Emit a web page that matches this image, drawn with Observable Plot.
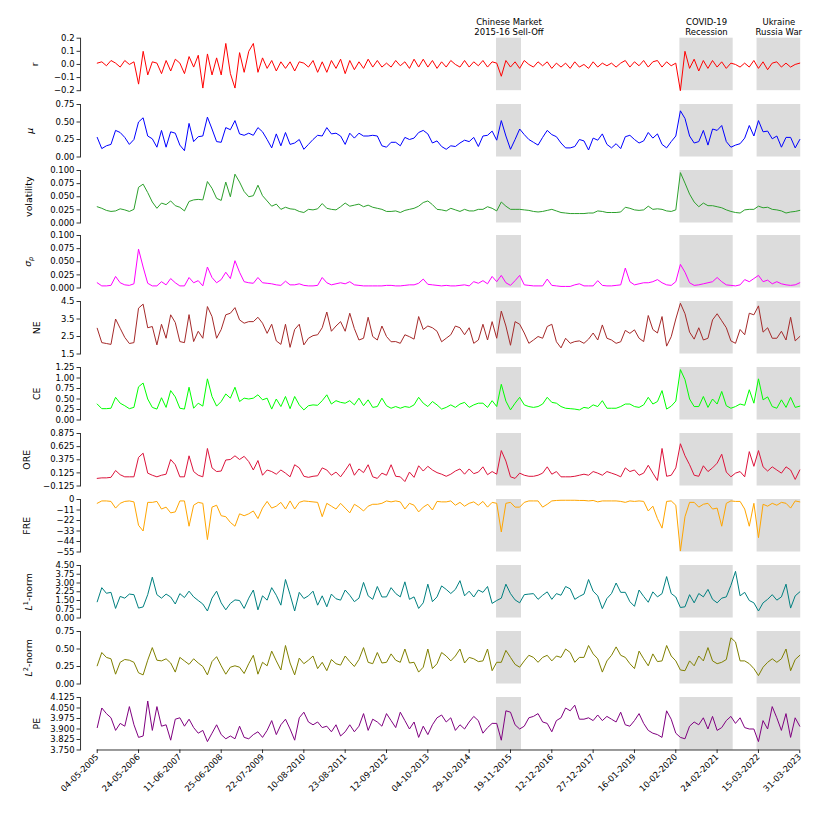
<!DOCTYPE html>
<html><head><meta charset="utf-8">
<script src="https://cdn.jsdelivr.net/npm/d3@7"></script>
<script src="https://cdn.jsdelivr.net/npm/@observablehq/plot@0.6"></script>
<style>
body{margin:0;background:#fff}
#c{position:relative;width:831px;height:819px;font-family:"DejaVu Sans",sans-serif}
#c svg{position:absolute;left:0;max-width:none}
</style>
</head><body><div id="c"></div>
<script>
// ---------- data ----------
const dateLabels = ["04-05-2005","24-05-2006","11-06-2007","25-06-2008","22-07-2009","10-08-2010","23-08-2011","12-09-2012","04-10-2013","29-10-2014","19-11-2015","12-12-2016","27-12-2017","16-01-2019","10-02-2020","24-02-2021","15-03-2022","31-03-2023"];
const dateTickIdx = [0,9,18,27,36,45,54,63,72,81,90,99,108,117,126,135,144,153];

const crisisNames = ["Chinese Market\n2015-16 Sell-Off","COVID-19\nRecession","Ukraine\nRussia War"];
const crisisStart = [86.96,126.9,143.7];
const crisisEnd = [92.4,138.5,153.2];

const rVals = [0.01,0.02,-0.01,0.03,0.01,-0.02,0.03,0.00,0.02,-0.15,
0.10,-0.08,0.02,0.01,-0.07,0.03,-0.05,0.04,0.01,-0.07,
0.06,-0.02,0.07,-0.18,0.08,-0.08,0.05,-0.08,0.16,-0.07,
-0.18,0.09,-0.06,0.10,0.16,-0.06,0.05,-0.03,0.03,-0.05,
0.02,-0.03,0.02,-0.05,0.02,0.01,-0.02,0.03,-0.06,0.02,
-0.06,0.03,-0.03,0.04,-0.07,0.03,-0.04,0.02,-0.03,0.04,
-0.02,0.03,-0.02,0.01,-0.02,0.03,-0.01,0.02,-0.03,0.04,
-0.02,0.04,-0.02,0.03,-0.03,0.02,-0.02,0.03,0.00,-0.02,
0.03,-0.02,0.02,-0.01,0.03,-0.02,0.02,0.01,-0.09,0.03,
-0.02,0.02,-0.03,0.03,0.00,-0.02,0.02,-0.01,0.02,-0.03,
0.01,-0.02,0.01,-0.03,0.02,-0.02,0.00,-0.03,0.02,-0.02,
0.01,-0.01,0.01,-0.02,0.01,0.03,-0.02,0.02,-0.01,0.03,
-0.02,0.02,0.03,-0.02,0.02,-0.01,0.01,-0.20,0.10,-0.03,
0.04,-0.05,0.03,-0.03,0.03,-0.02,0.02,-0.03,0.01,0.00,
-0.02,0.01,-0.02,0.03,-0.03,0.02,-0.04,0.01,0.02,-0.02,
0.01,-0.02,0.00,0.01];

const muVals = [0.28,0.12,0.16,0.18,0.38,0.35,0.28,0.18,0.25,0.50,
0.56,0.30,0.26,0.14,0.38,0.14,0.36,0.34,0.17,0.09,
0.48,0.22,0.29,0.30,0.57,0.40,0.22,0.21,0.42,0.39,
0.52,0.33,0.31,0.34,0.31,0.42,0.36,0.25,0.13,0.33,
0.16,0.35,0.18,0.20,0.25,0.11,0.18,0.25,0.31,0.30,
0.42,0.33,0.34,0.30,0.18,0.34,0.27,0.34,0.30,0.30,
0.31,0.30,0.16,0.14,0.21,0.21,0.16,0.28,0.25,0.27,
0.35,0.38,0.33,0.20,0.23,0.15,0.11,0.16,0.15,0.20,
0.24,0.22,0.28,0.15,0.30,0.31,0.37,0.24,0.52,0.30,
0.11,0.25,0.40,0.32,0.25,0.21,0.17,0.28,0.38,0.32,
0.29,0.20,0.13,0.13,0.15,0.25,0.23,0.10,0.27,0.24,
0.33,0.18,0.13,0.19,0.12,0.29,0.31,0.25,0.20,0.23,
0.35,0.27,0.33,0.18,0.13,0.22,0.30,0.66,0.55,0.30,
0.20,0.22,0.38,0.17,0.40,0.38,0.45,0.22,0.14,0.17,
0.19,0.27,0.45,0.30,0.52,0.36,0.37,0.26,0.30,0.14,
0.28,0.28,0.13,0.25];

const volVals = [0.031,0.028,0.024,0.022,0.023,0.027,0.025,0.022,0.026,0.068,
0.074,0.058,0.040,0.028,0.038,0.035,0.042,0.033,0.030,0.023,
0.041,0.044,0.045,0.044,0.079,0.066,0.047,0.043,0.078,0.050,
0.093,0.078,0.060,0.050,0.052,0.072,0.052,0.042,0.032,0.036,
0.026,0.030,0.027,0.026,0.022,0.020,0.026,0.025,0.027,0.037,
0.028,0.026,0.025,0.031,0.038,0.032,0.034,0.036,0.031,0.034,
0.030,0.028,0.026,0.022,0.022,0.023,0.020,0.024,0.026,0.028,
0.032,0.039,0.042,0.035,0.026,0.025,0.023,0.028,0.025,0.022,
0.026,0.023,0.023,0.026,0.026,0.031,0.028,0.023,0.040,0.032,
0.026,0.026,0.026,0.025,0.024,0.022,0.021,0.022,0.024,0.026,
0.023,0.020,0.019,0.018,0.018,0.018,0.018,0.019,0.019,0.023,
0.022,0.020,0.020,0.020,0.021,0.030,0.028,0.025,0.024,0.025,
0.032,0.026,0.027,0.026,0.023,0.022,0.025,0.096,0.076,0.055,
0.040,0.031,0.038,0.033,0.033,0.031,0.029,0.025,0.022,0.020,
0.019,0.025,0.026,0.026,0.032,0.029,0.030,0.026,0.025,0.023,
0.019,0.021,0.022,0.024];

const sigmaVals = [0.010,0.004,0.004,0.005,0.022,0.010,0.006,0.005,0.008,0.074,
0.040,0.009,0.004,0.004,0.012,0.006,0.018,0.010,0.004,0.004,
0.020,0.010,0.014,0.004,0.040,0.020,0.010,0.016,0.030,0.018,
0.052,0.030,0.012,0.010,0.009,0.020,0.010,0.009,0.008,0.006,
0.005,0.013,0.006,0.006,0.008,0.005,0.004,0.004,0.005,0.020,
0.010,0.006,0.008,0.010,0.008,0.012,0.006,0.005,0.004,0.004,
0.004,0.004,0.004,0.005,0.005,0.004,0.004,0.005,0.006,0.006,
0.009,0.017,0.007,0.006,0.005,0.004,0.005,0.004,0.004,0.005,
0.006,0.004,0.012,0.009,0.014,0.008,0.022,0.012,0.024,0.010,
0.005,0.014,0.024,0.006,0.005,0.004,0.004,0.004,0.017,0.005,
0.004,0.003,0.003,0.003,0.006,0.008,0.004,0.004,0.004,0.014,
0.005,0.004,0.004,0.005,0.006,0.038,0.012,0.006,0.008,0.010,
0.010,0.012,0.016,0.010,0.006,0.005,0.012,0.045,0.030,0.010,
0.005,0.006,0.008,0.010,0.012,0.020,0.012,0.006,0.005,0.004,
0.006,0.016,0.012,0.018,0.024,0.012,0.015,0.008,0.012,0.008,
0.006,0.005,0.006,0.010];

const neVals = [2.97,2.15,2.10,2.05,3.50,2.97,2.45,2.10,2.15,4.12,
4.35,3.00,3.07,2.02,3.20,2.40,3.74,3.30,2.21,2.15,
3.75,2.21,2.80,2.40,4.21,3.64,2.40,2.90,3.74,3.83,
4.15,3.45,3.26,3.35,3.35,3.60,3.26,2.68,3.20,2.25,
2.05,3.20,1.88,2.90,3.20,2.02,2.40,2.55,2.60,3.00,
3.90,2.80,3.10,3.35,2.80,3.83,2.95,2.30,2.40,3.60,
2.50,2.30,3.10,2.50,2.20,2.21,2.11,2.60,2.49,2.35,
3.64,2.90,3.10,3.00,2.80,2.20,2.40,2.60,3.10,3.00,
2.60,3.00,2.11,2.30,3.20,2.30,3.35,2.40,3.95,3.10,
2.00,3.35,3.20,2.70,2.11,2.30,2.50,2.40,3.07,3.20,
2.20,1.85,2.40,2.11,2.21,2.25,2.11,2.35,2.70,2.30,
3.16,2.40,2.30,2.11,2.20,2.85,2.68,2.88,2.40,2.21,
3.70,2.90,2.70,3.64,1.95,2.49,3.50,4.40,3.80,2.75,
2.35,3.00,2.30,2.40,3.45,3.80,3.40,3.00,2.25,2.11,
2.90,2.60,3.83,3.74,4.25,2.75,3.00,2.40,2.40,2.80,
2.30,3.60,2.25,2.50];

const ceVals = [0.38,0.27,0.27,0.28,0.54,0.40,0.34,0.27,0.30,0.79,
0.88,0.50,0.30,0.26,0.53,0.30,0.70,0.55,0.28,0.26,
0.78,0.28,0.40,0.33,0.98,0.56,0.33,0.44,0.62,0.52,
0.78,0.44,0.52,0.50,0.52,0.60,0.48,0.52,0.26,0.50,
0.32,0.56,0.27,0.56,0.36,0.24,0.34,0.36,0.35,0.46,
0.60,0.38,0.46,0.42,0.40,0.46,0.36,0.52,0.34,0.48,
0.30,0.32,0.52,0.34,0.28,0.32,0.28,0.32,0.30,0.36,
0.54,0.40,0.32,0.44,0.36,0.26,0.30,0.36,0.30,0.38,
0.42,0.30,0.36,0.40,0.40,0.30,0.46,0.32,0.85,0.45,
0.24,0.40,0.54,0.36,0.32,0.30,0.32,0.38,0.54,0.42,
0.40,0.32,0.28,0.27,0.26,0.24,0.30,0.28,0.36,0.32,
0.46,0.28,0.28,0.28,0.32,0.38,0.38,0.32,0.30,0.36,
0.54,0.38,0.44,0.70,0.26,0.33,0.45,1.20,0.96,0.50,
0.32,0.32,0.56,0.30,0.50,0.38,0.68,0.34,0.28,0.32,
0.38,0.35,0.72,0.40,0.98,0.48,0.55,0.32,0.28,0.48,
0.30,0.54,0.30,0.33];

const oreVals = [0.02,0.03,0.03,0.04,0.17,0.09,0.05,0.05,0.05,0.42,
0.50,0.12,0.08,0.05,0.08,0.10,0.38,0.28,0.05,0.05,
0.45,0.15,0.08,0.05,0.59,0.22,0.15,0.16,0.37,0.38,
0.45,0.38,0.44,0.34,0.18,0.36,0.08,0.18,0.15,0.10,
0.18,0.12,0.05,0.28,0.22,0.06,0.04,0.06,0.07,0.22,
0.18,0.08,0.14,0.05,0.17,0.30,0.08,0.20,0.13,0.28,
0.05,0.02,0.12,0.08,0.28,0.06,0.05,-0.04,0.14,0.04,
0.26,0.16,0.25,0.18,0.13,0.10,0.06,0.10,0.16,0.20,
0.10,0.20,0.11,0.14,0.24,0.09,0.15,0.10,0.55,0.35,
0.05,0.02,0.12,0.08,0.06,0.06,0.08,0.12,0.24,0.10,
0.15,0.05,0.05,0.05,0.06,0.08,0.10,0.08,0.15,0.12,
0.08,0.15,0.12,0.09,0.05,0.22,0.15,0.18,0.08,0.12,
0.27,0.12,-0.02,0.59,0.06,0.08,0.22,0.68,0.45,0.28,
0.08,0.06,0.26,0.15,0.22,0.31,0.48,0.14,0.05,0.12,
0.15,0.05,0.53,0.25,0.55,0.24,0.16,0.24,0.18,0.12,
0.24,0.18,0.00,0.18];

const freVals = [-4,-1.5,-1.5,-2,-9,-4,-2,-1.5,-2.5,-27,
-33,-3,-3,-2,-10,-8,-14,-13,-1.5,-1.5,
-28,-6,-3,-4,-42,-8,-6,-17,-18,-24,
-28,-15,-17,-15,-12,-20,-9,-2,-9,-7,
-3,-10,-1.5,-10,-3,-1.5,-2,-2.5,-3,-18,
-4,-7,-10,-4,-9,-14,-5,-8,-12,-7,
-5,-5,-4,-1.5,-2.5,-1.5,-2.5,-10,-4,-6,
-13,-8,-5,-11,-2,-2.5,-2.5,-1.5,-6,-3,
-7,-4,-2.5,-6,-2,-8,-3,-4,-34,-4,
-3,-8,-8,-3,-1.5,-1.5,-1.5,-8,-5,-1.5,
-1,-0.8,-0.8,-0.8,-0.8,-1,-1,-1.5,-1,-2.5,
-1.5,-1.5,-1.5,-1.5,-2,-3,-1.5,-2,-1.5,-2,
-12,-7,-20,-30,-2,-1.5,-6,-54,-18,-3,
-3,-8,-5,-4,-10,-9,-28,-4,-1.5,-2,
-2,-10,-28,-4,-40,-5,-7,-4,-6,-3,
-4,-9,-1.5,-2.5];

const l1Vals = [1.39,2.60,2.12,2.20,0.82,1.85,1.70,2.05,2.00,0.85,
0.95,2.00,3.50,2.00,1.70,2.05,1.80,1.20,2.09,1.75,
2.30,1.81,1.50,1.20,0.60,1.70,2.30,1.30,0.70,1.25,
1.55,1.50,0.82,1.70,2.40,0.70,1.90,1.53,2.60,1.95,
1.10,3.30,2.00,0.60,2.20,1.67,1.90,2.30,1.10,1.90,
0.96,2.05,1.65,1.53,2.40,1.95,1.40,1.70,3.05,1.90,
1.60,2.70,1.80,1.81,2.60,2.10,1.81,3.10,1.60,1.81,
0.82,1.30,2.90,1.40,1.81,2.75,2.45,2.10,2.45,3.20,
1.90,2.30,1.80,2.40,2.20,2.70,1.25,1.50,1.70,2.90,
2.09,1.55,1.30,2.00,2.05,2.09,1.60,1.95,2.24,1.60,
2.09,1.95,2.70,2.50,1.60,1.85,2.05,3.30,2.30,1.90,
0.80,1.67,2.10,3.00,2.20,2.20,1.40,1.00,2.40,1.85,
1.35,2.24,1.81,2.09,3.55,2.10,1.80,0.90,0.96,2.00,
1.30,2.10,1.81,2.45,1.60,1.30,1.70,1.81,2.80,4.00,
1.90,2.20,1.50,1.30,0.60,1.30,1.60,2.00,1.53,1.81,
2.90,0.85,1.90,2.24];

const l2Vals = [0.26,0.45,0.38,0.36,0.14,0.31,0.35,0.34,0.31,0.16,
0.13,0.34,0.52,0.34,0.33,0.36,0.30,0.17,0.38,0.33,
0.28,0.36,0.30,0.25,0.13,0.32,0.39,0.26,0.14,0.24,
0.26,0.24,0.15,0.29,0.41,0.14,0.31,0.26,0.47,0.33,
0.20,0.55,0.30,0.13,0.37,0.29,0.34,0.40,0.22,0.31,
0.19,0.35,0.29,0.27,0.40,0.32,0.25,0.35,0.52,0.31,
0.29,0.45,0.30,0.31,0.43,0.34,0.31,0.50,0.30,0.31,
0.17,0.24,0.50,0.22,0.29,0.45,0.40,0.33,0.40,0.50,
0.30,0.38,0.36,0.32,0.33,0.50,0.19,0.31,0.31,0.48,
0.38,0.28,0.24,0.33,0.41,0.38,0.31,0.38,0.41,0.33,
0.40,0.38,0.50,0.45,0.31,0.38,0.38,0.55,0.43,0.36,
0.17,0.33,0.41,0.53,0.41,0.38,0.29,0.22,0.47,0.36,
0.26,0.43,0.32,0.33,0.55,0.40,0.33,0.20,0.19,0.33,
0.26,0.40,0.33,0.52,0.33,0.29,0.31,0.35,0.66,0.60,
0.33,0.33,0.29,0.22,0.12,0.24,0.31,0.36,0.31,0.36,
0.50,0.19,0.35,0.41];

const peVals = [3.91,4.05,4.01,3.98,3.89,3.94,3.92,4.06,3.93,3.84,
3.85,4.10,3.89,4.06,3.92,3.93,3.82,3.97,3.98,3.92,
3.97,3.91,3.87,3.89,3.81,3.87,3.93,3.86,3.83,3.85,
3.83,3.92,3.84,3.83,3.86,3.88,3.84,3.89,3.96,3.86,
3.93,3.97,3.90,3.82,3.98,4.02,3.95,3.93,3.95,3.91,
3.92,3.88,3.93,3.85,3.88,3.93,3.88,3.92,4.01,3.89,
3.97,3.95,3.92,4.01,3.96,3.91,4.02,3.96,3.90,3.95,
3.84,3.92,3.86,3.93,3.98,4.00,3.95,3.98,3.89,3.93,
3.90,3.95,3.99,3.96,3.87,3.91,3.94,3.94,3.82,4.03,
4.02,3.93,3.90,3.92,3.98,3.99,4.01,3.95,3.94,3.88,
3.96,3.98,4.05,4.03,4.07,3.97,3.97,3.98,3.96,4.00,
3.96,3.99,3.97,3.95,4.02,3.93,3.92,3.96,4.01,3.94,
3.89,3.87,3.86,3.84,4.03,3.97,3.87,3.84,3.83,3.92,
3.95,3.93,3.98,3.90,3.99,3.89,3.91,3.96,3.99,3.94,
3.98,3.91,3.90,3.90,3.81,3.96,3.90,4.06,3.98,3.89,
4.01,3.84,3.98,3.92];

const rTicks = [-0.2,-0.1,0,0.1,0.2];
const muTicks = [0,0.25,0.5,0.75];
const volTicks = [0,0.025,0.05,0.075,0.1];
const sigmaTicks = [0,0.025,0.05,0.075,0.1];
const neTicks = [1.5,2.5,3.5,4.5];
const ceTicks = [0,0.25,0.5,0.75,1,1.25];
const oreTicks = [-0.125,0.125,0.375,0.625,0.875];
const freTicks = [-55,-44,-33,-22,-11,0];
const l1Ticks = [0,0.75,1.5,2.25,3,3.75,4.5];
const l2Ticks = [0,0.25,0.5,0.75];
const peTicks = [3.75,3.825,3.9,3.975,4.05,4.125];

// ---------- panels ----------
const panels = [
  {label:"r", values:rVals, color:"#ff0000", ticks:rTicks, fmt:".1f", lx:34.7},
  {label:"μ", values:muVals, color:"#0000ff", ticks:muTicks, fmt:".2f", lx:29.5,
   rich:'<tspan font-style="italic">μ</tspan>'},
  {label:"volatility", values:volVals, color:"#2ca02c", ticks:volTicks, fmt:".3f", lx:28.3},
  {label:"σp", values:sigmaVals, color:"#ff00ff", ticks:sigmaTicks, fmt:".3f", lx:27.5,
   rich:'<tspan font-style="italic">σ</tspan><tspan font-style="italic" font-size="70%" dy="0.3em">p</tspan>'},
  {label:"NE", values:neVals, color:"#a52a2a", ticks:neTicks, fmt:".1f", lx:36},
  {label:"CE", values:ceVals, color:"#00ff00", ticks:ceTicks, fmt:".2f", lx:36},
  {label:"ORE", values:oreVals, color:"#dc143c", ticks:oreTicks, fmt:".3f", lx:26.7},
  {label:"FRE", values:freVals, color:"#ffa500", ticks:freTicks, fmt:"d", lx:26.7},
  {label:"L1-norm", values:l1Vals, color:"#008080", ticks:l1Ticks, fmt:".2f", lx:28.5,
   rich:'<tspan font-style="italic">L</tspan><tspan font-size="70%" dy="-0.55em">1</tspan><tspan dy="0.385em">-norm</tspan>'},
  {label:"L2-norm", values:l2Vals, color:"#808000", ticks:l2Ticks, fmt:".2f", lx:28.5,
   rich:'<tspan font-style="italic">L</tspan><tspan font-size="70%" dy="-0.55em">2</tspan><tspan dy="0.385em">-norm</tspan>'},
  {label:"PE", values:peVals, color:"#800080", ticks:peTicks, fmt:".3f", lx:36}
];

const crises = crisisNames.map((name, k) => ({name, x1: crisisStart[k], x2: crisisEnd[k]}));
const nLast = peVals.length - 1;

const W = 831, H = 819, X0 = 96.7, X1 = 799.3, TOP0 = 37.7, PITCH = 65.91, PH = 52.5;
const container = document.getElementById("c");

panels.forEach((p, k) => {
  const first = k === 0, last = k === panels.length - 1;
  const mt = first ? TOP0 : 7;
  const top = TOP0 + k * PITCH;
  const mb = last ? H - (top + PH) : 6;
  const rows = p.values.map((v, i) => ({i, v}));
  const dom = d3.extent(p.ticks);
  const marks = [
    Plot.rect(crises, {x1: "x1", x2: "x2", fill: "#dcdcdc"}),
    Plot.line(rows, {x: "i", y: "v", stroke: p.color, strokeWidth: 1}),
    Plot.frame({anchor: "left", stroke: "#000", strokeWidth: 0.8}),
    Plot.axisY({ticks: p.ticks, tickFormat: d3.format(p.fmt), tickSize: 3.5, tickPadding: 2.5, label: null, strokeWidth: 0.8}),
    Plot.text([p.label], {frameAnchor: "left", dx: p.lx - 80, rotate: -90, textAnchor: "middle", lineAnchor: "middle", fontSize: 9.4, fill: "#000"})
  ];
  if (first) {
    marks.push(Plot.text(crises, {x: d => (d.x1 + d.x2) / 2, text: "name", frameAnchor: "top", lineAnchor: "bottom", lineHeight: 1.15, dy: -3, fontSize: 8.5, fill: "#000"}));
  }
  if (last) {
    marks.push(Plot.ruleY([dom[0]], {x1: 0, x2: nLast, stroke: "#000", strokeWidth: 0.8}));
    marks.push(Plot.axisX({ticks: dateTickIdx, tickFormat: d => dateLabels[dateTickIdx.indexOf(d)], tickRotate: -45, tickSize: 3.5, tickPadding: 2, label: null, strokeWidth: 0.8}));
  }
  const xOpts = {domain: [0, nLast], range: [X0, X1]};
  if (!last) xOpts.axis = null;
  const svg = Plot.plot({
    width: W, height: mt + PH + mb,
    marginLeft: 80, marginRight: W - X1, marginTop: mt, marginBottom: mb,
    x: xOpts,
    y: {domain: dom},
    style: {fontFamily: "DejaVu Sans", fontSize: "8.5px", background: "transparent", overflow: "visible", color: "#000"},
    marks
  });
  svg.style.top = (top - mt) + "px";
  if (p.rich) {
    svg.querySelectorAll("text").forEach(t => { if (t.textContent === p.label) t.innerHTML = p.rich; });
  }
  container.appendChild(svg);
});
</script>
</body></html>
